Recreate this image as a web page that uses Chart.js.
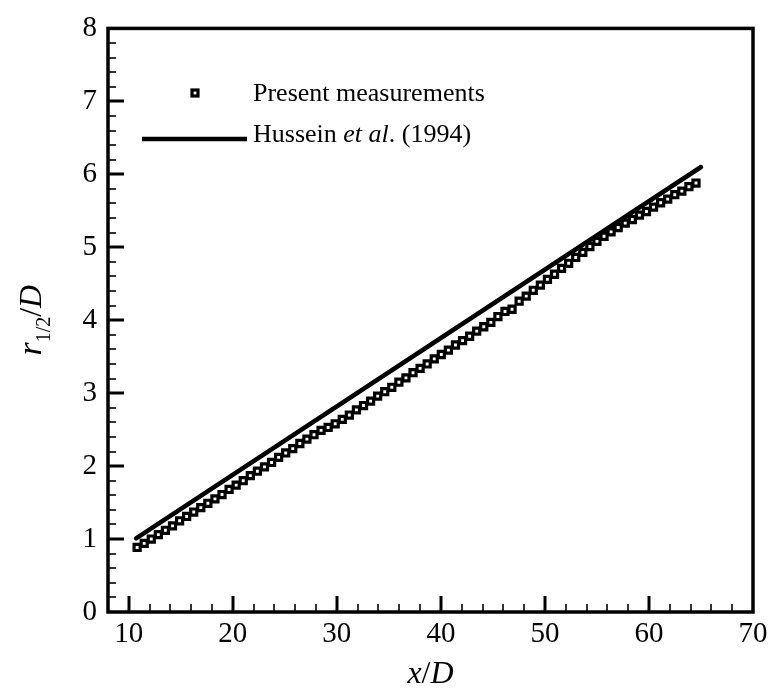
<!DOCTYPE html>
<html>
<head>
<meta charset="utf-8">
<script src="https://cdn.jsdelivr.net/npm/chart.js@4"></script>
<style>
  body { margin: 0; background: #fff; }
  #wrap { width: 774px; height: 689px; }
</style>
</head>
<body>
<div id="wrap"><canvas id="myChart" width="774" height="689"></canvas></div>
<script>
const xMeas = [10.80, 11.48, 12.16, 12.84, 13.52, 14.20, 14.88, 15.56, 16.24, 16.92,
  17.60, 18.28, 18.96, 19.64, 20.32, 21.00, 21.68, 22.36, 23.04, 23.72,
  24.40, 25.08, 25.76, 26.44, 27.12, 27.80, 28.48, 29.16, 29.84, 30.52,
  31.20, 31.88, 32.56, 33.24, 33.92, 34.60, 35.28, 35.96, 36.64, 37.32,
  38.00, 38.68, 39.36, 40.04, 40.72, 41.40, 42.08, 42.76, 43.44, 44.12,
  44.80, 45.48, 46.16, 46.84, 47.52, 48.20, 48.88, 49.56, 50.24, 50.92,
  51.60, 52.28, 52.96, 53.64, 54.32, 55.00, 55.68, 56.36, 57.04, 57.72,
  58.40, 59.08, 59.76, 60.44, 61.12, 61.80, 62.48, 63.16, 63.84, 64.52];
const yMeas = [0.885, 0.94, 1.00, 1.06, 1.12, 1.18, 1.25, 1.31, 1.37, 1.43,
  1.49, 1.55, 1.61, 1.68, 1.74, 1.80, 1.87, 1.93, 1.99, 2.05,
  2.12, 2.18, 2.24, 2.31, 2.37, 2.43, 2.49, 2.53, 2.58, 2.64,
  2.70, 2.77, 2.83, 2.89, 2.96, 3.02, 3.08, 3.15, 3.21, 3.28,
  3.34, 3.40, 3.47, 3.53, 3.59, 3.66, 3.72, 3.78, 3.85, 3.91,
  3.97, 4.05, 4.12, 4.15, 4.26, 4.33, 4.41, 4.48, 4.56, 4.63,
  4.71, 4.78, 4.86, 4.93, 5.01, 5.08, 5.15, 5.21, 5.27, 5.33,
  5.38, 5.44, 5.49, 5.55, 5.61, 5.66, 5.72, 5.77, 5.83, 5.88];

// Hussein et al. (1994) straight line, end points
const xHussein = [10.7, 65.0];
const yHussein = [1.01, 6.10];

const xTicks = [10, 20, 30, 40, 50, 60, 70];
const yTicks = [0, 1, 2, 3, 4, 5, 6, 7, 8];

const SERIF = "'Liberation Serif', 'Times New Roman', serif";

const measPoints = xMeas.map((x, i) => ({x: x, y: yMeas[i]}));
const husseinPoints = xHussein.map((x, i) => ({x: x, y: yHussein[i]}));

// box, inward ticks, axis titles and legend
const framePlugin = {
  id: 'frame',
  afterDraw(chart) {
    const ctx = chart.ctx;
    const a = chart.chartArea;
    const xs = chart.scales.x, ys = chart.scales.y;
    ctx.save();
    ctx.strokeStyle = '#000';
    ctx.fillStyle = '#000';

    // x ticks
    for (let v = 8; v <= 70; v += 2) {
      if (v === 8 || v === 70) continue;
      const px = Math.round(xs.getPixelForValue(v));
      const major = v % 10 === 0;
      ctx.lineWidth = major ? 3 : 1.6;
      ctx.beginPath();
      ctx.moveTo(px, a.bottom);
      ctx.lineTo(px, a.bottom - (major ? 16 : 8));
      ctx.stroke();
    }
    // y ticks
    for (let k = 1; k < 40; k++) {
      const v = k * 0.2;
      const py = Math.round(ys.getPixelForValue(v));
      const major = k % 5 === 0;
      ctx.lineWidth = major ? 3 : 1.6;
      ctx.beginPath();
      ctx.moveTo(a.left, py);
      ctx.lineTo(a.left + (major ? 16 : 8), py);
      ctx.stroke();
    }
    // box
    ctx.lineWidth = 3.5;
    ctx.strokeRect(a.left, a.top, a.right - a.left, a.bottom - a.top);

    // x title: x/D
    ctx.textBaseline = 'alphabetic';
    ctx.textAlign = 'left';
    const xt = [['italic 32px ' + SERIF, 'x'], ['32px ' + SERIF, '/'], ['italic 32px ' + SERIF, 'D']];
    let w = 0;
    xt.forEach(p => { ctx.font = p[0]; w += ctx.measureText(p[1]).width; });
    let cx = (a.left + a.right) / 2 - w / 2;
    xt.forEach(p => { ctx.font = p[0]; ctx.fillText(p[1], cx, 683); cx += ctx.measureText(p[1]).width; });

    // y title: r_{1/2}/D
    ctx.save();
    ctx.translate(41, (a.top + a.bottom) / 2);
    ctx.rotate(-Math.PI / 2);
    const yt = [['italic 34px ' + SERIF, 'r', 0], ['20px ' + SERIF, '1/2', 9], ['32px ' + SERIF, '/', 0], ['italic 32px ' + SERIF, 'D', 0]];
    w = 0;
    yt.forEach(p => { ctx.font = p[0]; w += ctx.measureText(p[1]).width; });
    cx = -w / 2;
    yt.forEach(p => { ctx.font = p[0]; ctx.fillText(p[1], cx, p[2]); cx += ctx.measureText(p[1]).width; });
    ctx.restore();

    // legend
    ctx.lineWidth = 3.2;
    ctx.strokeRect(192, 90, 6, 6);
    ctx.font = '26px ' + SERIF;
    ctx.fillText('Present measurements', 253, 101);

    ctx.lineWidth = 4.5;
    ctx.beginPath();
    ctx.moveTo(142, 139);
    ctx.lineTo(247, 139);
    ctx.stroke();
    const lg = [['26px ' + SERIF, 'Hussein '], ['italic 26px ' + SERIF, 'et al'], ['26px ' + SERIF, '. (1994)']];
    cx = 253;
    lg.forEach(p => { ctx.font = p[0]; ctx.fillText(p[1], cx, 142); cx += ctx.measureText(p[1]).width; });

    ctx.restore();
  }
};

const config = {
  type: 'line',
  data: {
    datasets: [
      {
        label: 'Hussein et al. (1994)',
        data: husseinPoints,
        borderColor: '#000',
        borderWidth: 4.5,
        borderCapStyle: 'round',
        pointRadius: 0,
        fill: false
      },
      {
        label: 'Present measurements',
        data: measPoints,
        showLine: false,
        pointStyle: 'rect',
        pointRadius: 4.3,
        pointBorderWidth: 3.2,
        pointBorderColor: '#000',
        pointBackgroundColor: '#fff'
      }
    ]
  },
  options: {
    responsive: false,
    animation: false,
    layout: { padding: { top: 22, right: 21, left: 0, bottom: 0 } },
    plugins: {
      legend: { display: false },
      tooltip: { enabled: false }
    },
    scales: {
      x: {
        type: 'linear',
        min: 8,
        max: 70,
        grid: { display: false, drawTicks: false },
        border: { display: false },
        ticks: { color: '#000', font: { family: SERIF, size: 29 }, padding: 5, maxRotation: 0 },
        afterBuildTicks: s => { s.ticks = xTicks.map(v => ({ value: v })); },
        afterFit: s => { s.height = 77; }
      },
      y: {
        type: 'linear',
        min: 0,
        max: 8,
        grid: { display: false, drawTicks: false },
        border: { display: false },
        ticks: { color: '#000', font: { family: SERIF, size: 29 }, padding: 11 },
        afterBuildTicks: s => { s.ticks = yTicks.map(v => ({ value: v })); },
        afterFit: s => { s.width = 108; }
      }
    }
  },
  plugins: [framePlugin]
};

const myChart = new Chart(document.getElementById('myChart'), config);
</script>
</body>
</html>
